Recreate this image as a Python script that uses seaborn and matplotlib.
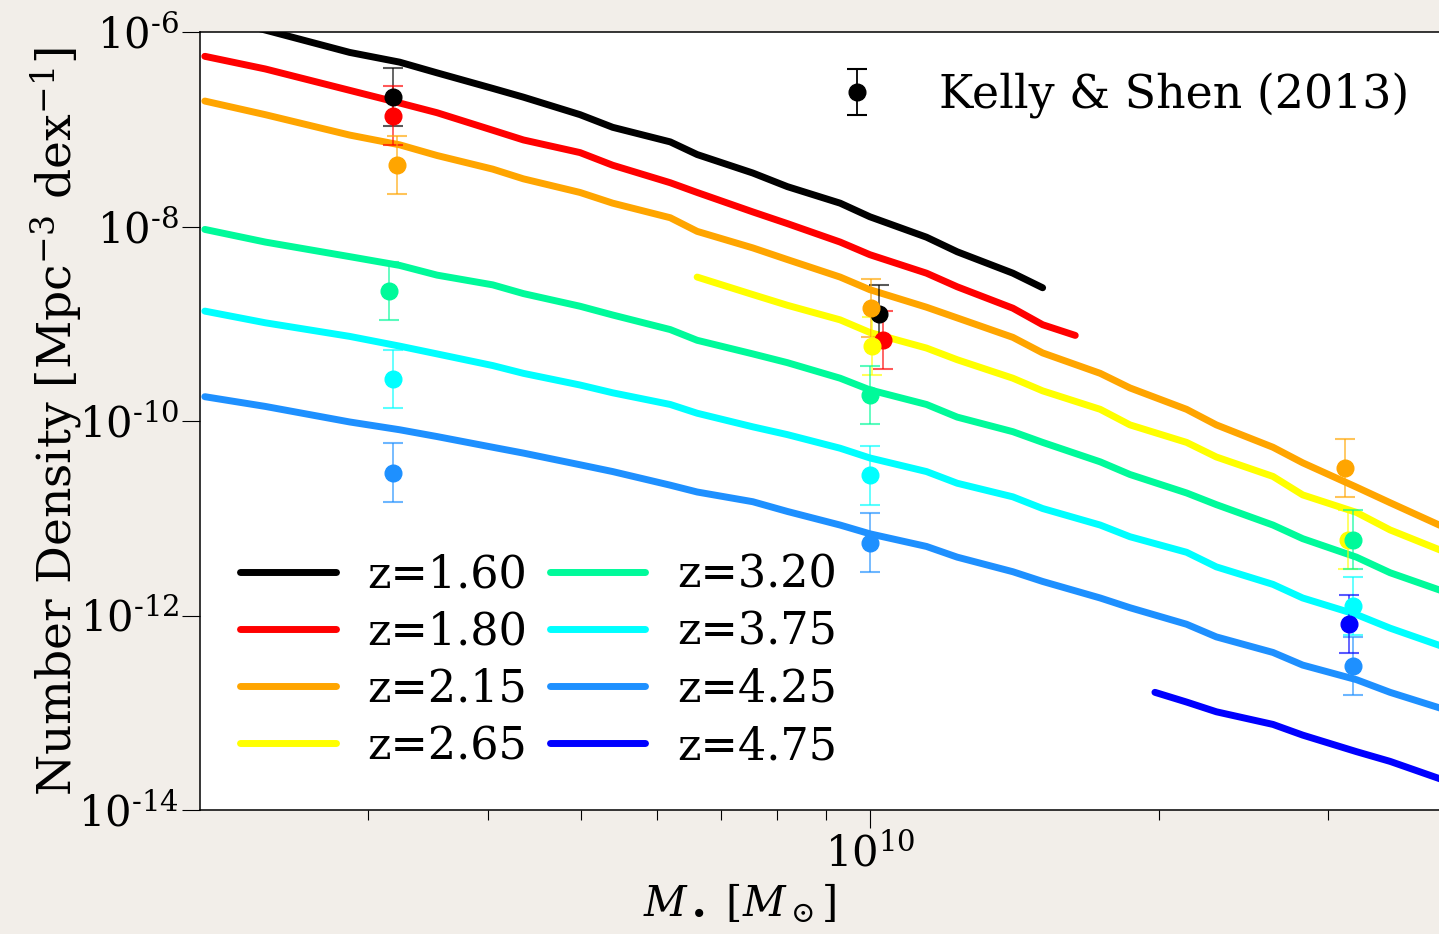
import numpy as np
import matplotlib
matplotlib.use("Agg")
import matplotlib.pyplot as plt
import seaborn as sns
from matplotlib.ticker import FixedLocator, FuncFormatter, NullFormatter, NullLocator, LogLocator

# ---- model curves: log10(M_BH / Msun) and log10(number density) ----
logm_grid = [9.307, 9.370, 9.458, 9.510, 9.549, 9.607, 9.639, 9.698, 9.732, 9.792,
             9.820, 9.878, 9.914, 9.969, 10.000, 10.059, 10.091, 10.149, 10.180, 10.240,
             10.271, 10.330, 10.361, 10.420, 10.451, 10.507, 10.542, 10.600]

redshifts = [1.60, 1.80, 2.15, 2.65, 3.20, 3.75, 4.25, 4.75]
colors = ["black", "red", "orange", "yellow", "#00fa9a", "cyan", "dodgerblue", "blue"]

logm_z160 = logm_grid[:19]
logn_z160 = [-5.82, -5.98, -6.21, -6.31, -6.42, -6.58, -6.67, -6.85, -6.98, -7.13,
             -7.26, -7.45, -7.59, -7.76, -7.90, -8.11, -8.26, -8.48, -8.63]

logm_z180 = logm_grid[:19] + [10.214]
logn_z180 = [-6.25, -6.38, -6.60, -6.73, -6.83, -7.01, -7.11, -7.24, -7.37, -7.55,
             -7.65, -7.85, -7.97, -8.16, -8.29, -8.48, -8.62, -8.84, -9.01, -9.12]

logm_z215 = logm_grid
logn_z215 = [-6.71, -6.85, -7.06, -7.16, -7.27, -7.41, -7.51, -7.65, -7.76, -7.91,
             -8.05, -8.22, -8.34, -8.52, -8.65, -8.83, -8.94, -9.14, -9.30, -9.51,
             -9.66, -9.88, -10.04, -10.27, -10.43, -10.68, -10.84, -11.10]

logm_z265 = logm_grid[10:]
logn_z265 = [-8.52, -8.70, -8.81, -8.96, -9.09, -9.25, -9.37, -9.56, -9.69, -9.88,
             -10.04, -10.22, -10.37, -10.57, -10.76, -10.94, -11.12, -11.35]

logm_z320 = logm_grid
logn_z320 = [-8.03, -8.16, -8.31, -8.40, -8.50, -8.60, -8.69, -8.82, -8.91, -9.06,
             -9.17, -9.31, -9.40, -9.56, -9.68, -9.83, -9.96, -10.11, -10.22, -10.42,
             -10.55, -10.74, -10.86, -11.07, -11.21, -11.40, -11.56, -11.76]

logm_z375 = logm_grid
logn_z375 = [-8.87, -8.99, -9.13, -9.23, -9.31, -9.43, -9.51, -9.63, -9.71, -9.83,
             -9.92, -10.06, -10.14, -10.28, -10.38, -10.52, -10.64, -10.78, -10.90, -11.07,
             -11.19, -11.35, -11.50, -11.68, -11.82, -11.99, -12.13, -12.33]

logm_z425 = logm_grid
logn_z425 = [-9.75, -9.85, -10.01, -10.09, -10.16, -10.27, -10.33, -10.45, -10.52, -10.66,
             -10.73, -10.83, -10.93, -11.07, -11.16, -11.29, -11.40, -11.55, -11.65, -11.82,
             -11.92, -12.09, -12.22, -12.38, -12.51, -12.66, -12.79, -12.97]

logm_z475 = [10.297] + logm_grid[21:]
logn_z475 = [-12.79, -12.89, -12.99, -13.12, -13.23, -13.40, -13.50, -13.70]

curve_logm = [logm_z160, logm_z180, logm_z215, logm_z265, logm_z320, logm_z375, logm_z425, logm_z475]
curve_logn = [logn_z160, logn_z180, logn_z215, logn_z265, logn_z320, logn_z375, logn_z425, logn_z475]

# ---- Kelly & Shen (2013) points ----
kelly_z = [1.60, 1.60, 1.80, 1.80, 2.15, 2.15, 2.15, 2.65, 2.65,
           3.20, 3.20, 3.20, 3.75, 3.75, 3.75, 4.25, 4.25, 4.25, 4.75]
kelly_logm = [9.503, 10.010, 9.503, 10.014, 9.507, 10.001, 10.495, 10.002, 10.498,
              9.499, 10.000, 10.503, 9.503, 10.000, 10.503, 9.503, 10.000, 10.503, 10.499]
kelly_logn = [-6.67, -8.90, -6.86, -9.17, -7.37, -8.84, -10.48, -9.23, -11.22,
              -8.66, -9.73, -11.22, -9.57, -10.56, -11.90, -10.53, -11.25, -12.52, -12.09]
kelly_err_dex = 0.3

sns.set_theme(style="ticks")
plt.rcParams["font.family"] = ["DejaVu Serif"]
plt.rcParams["mathtext.fontset"] = "dejavuserif"
for key in ["text.color", "axes.labelcolor", "xtick.color", "ytick.color"]:
    plt.rcParams[key] = "black"

bg = "#f2eee9"
fig = plt.figure(figsize=(14.39, 9.34), dpi=100, facecolor=bg)
ax = fig.add_axes([200 / 1439, 1 - 810 / 934, 1239 / 1439, 778 / 934])
ax.set_facecolor("white")
ax.set_xscale("log")
ax.set_yscale("log")

for z, c, lm, ln in zip(redshifts, colors, curve_logm, curve_logn):
    sns.lineplot(x=10 ** np.array(lm), y=10 ** np.array(ln), color=c, lw=5,
                 sort=False, estimator=None, label=f"z={z:.2f}", ax=ax)

color_of = dict(zip(redshifts, colors))
for z in redshifts:
    idx = [i for i, kz in enumerate(kelly_z) if kz == z]
    if not idx:
        continue
    m = 10 ** np.array([kelly_logm[i] for i in idx])
    n = 10 ** np.array([kelly_logn[i] for i in idx])
    lo = n - n * 10 ** (-kelly_err_dex)
    hi = n * 10 ** kelly_err_dex - n
    eb = ax.errorbar(m, n, yerr=[lo, hi], fmt="o", color=color_of[z], ms=12,
                     elinewidth=1.3, capsize=7, capthick=1.5, zorder=4)
    for a in eb[1] + eb[2]:
        a.set_alpha(0.65)

ax.set_xlim(10 ** 9.302, 10 ** 10.593)
ax.set_ylim(1e-14, 1e-6)

# ticks
ax.xaxis.set_major_locator(FixedLocator([1e10]))
ax.xaxis.set_major_formatter(FuncFormatter(lambda v, p: r"$10^{10}$"))
ax.xaxis.set_minor_locator(LogLocator(base=10, subs=np.arange(2, 10)))
ax.xaxis.set_minor_formatter(NullFormatter())
ax.yaxis.set_major_locator(FixedLocator([1e-14, 1e-12, 1e-10, 1e-8, 1e-6]))
ax.yaxis.set_major_formatter(FuncFormatter(
    lambda v, p: r"$10^{\text{-}%d}$" % int(round(-np.log10(v)))))
ax.yaxis.set_minor_locator(NullLocator())
ax.tick_params(which="major", direction="out", length=13, width=0.8, labelsize=30,
               pad=2, colors="black")
ax.tick_params(axis="x", which="major", pad=4)
ax.tick_params(which="minor", direction="out", length=7.5, width=0.8)

for s in ["left", "top", "bottom"]:
    ax.spines[s].set_color("black")
    ax.spines[s].set_linewidth(1.1)
ax.spines["right"].set_visible(False)

ax.set_ylabel(r"Number Density [Mpc$^{-3}$ dex$^{-1}$]", fontsize=34)
ax.yaxis.set_label_coords(-0.093, 0.5)
ax.set_xlabel(r"$M_\bullet\ [M_\odot]$", fontsize=30)
ax.xaxis.set_label_coords(0.435, -0.092)

# legends
handles, labels = ax.get_legend_handles_labels()
leg1 = ax.legend(handles[:8], labels[:8], loc="lower left", ncol=2, frameon=False,
                 fontsize=32, handlelength=2.15, handletextpad=0.72,
                 columnspacing=0.5, labelspacing=0.315,
                 bbox_to_anchor=(0, 2 / 778))
ax.add_artist(leg1)
ks = ax.errorbar([np.nan], [np.nan], yerr=[np.nan], fmt="o", color="black", ms=12,
                 elinewidth=1.3, capsize=7, capthick=1.5)
ax.legend([ks], ["Kelly & Shen (2013)"], loc="upper right", frameon=False,
          fontsize=33, handletextpad=0.8, borderaxespad=0.4,
          bbox_to_anchor=(1 + 7 / 1239, 1 - 4 / 778))

fig.savefig("out.png", dpi=100, facecolor=bg)
